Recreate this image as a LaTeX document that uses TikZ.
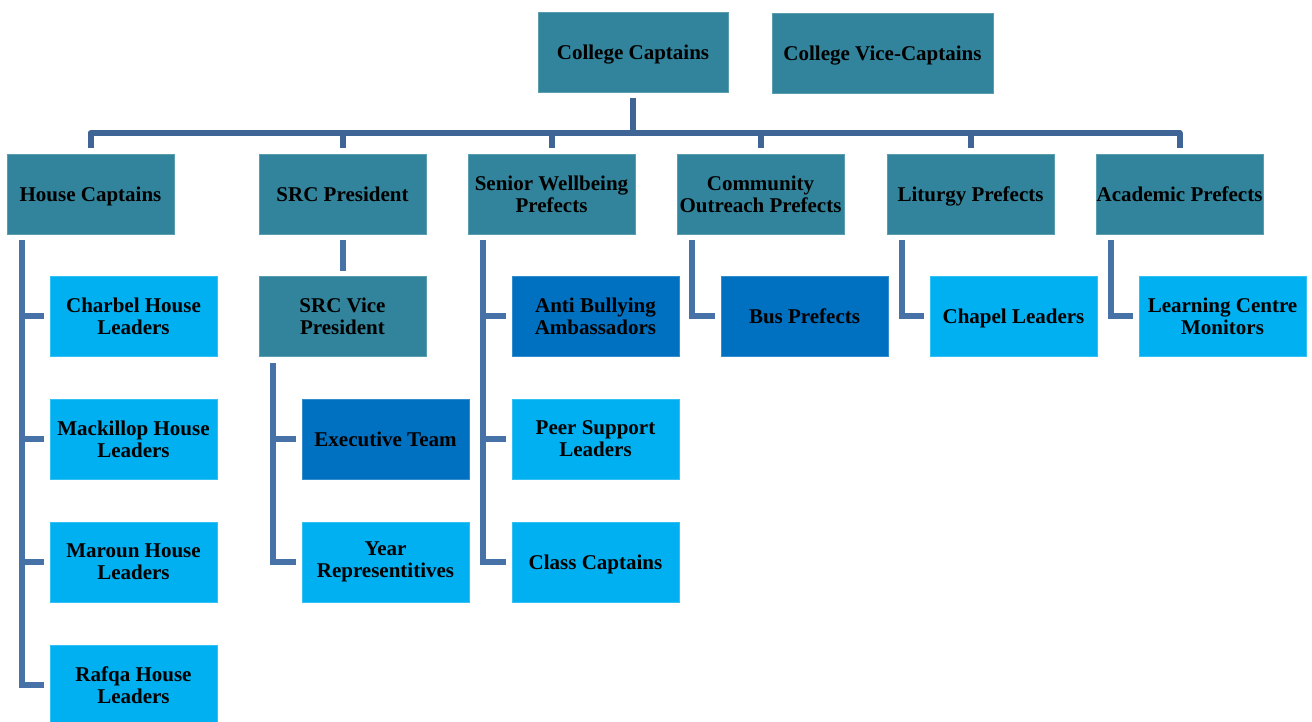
\documentclass[tikz,border=0pt]{standalone}
\usepackage{fontspec}
\setmainfont{Liberation Serif}
\definecolor{tealc}{HTML}{31849B}
\definecolor{lightc}{HTML}{00B0F0}
\definecolor{darkc}{HTML}{0070C0}
\definecolor{linec}{HTML}{4672A8}
\definecolor{busc}{HTML}{3F6496}
\begin{document}
\begin{tikzpicture}[x=1pt,y=-1pt,
  box/.style={rectangle, inner sep=0pt, minimum width=167pt, minimum height=80pt,
    align=center, font=\fontsize{21}{22}\selectfont\bfseries, text=black, line width=0.8pt},
  oneline/.style={text height=15pt, text depth=0pt},
  tealbox/.style={box, fill=tealc, draw=tealc!80!white},
  lightbox/.style={box, fill=lightc, draw=lightc!80!white},
  darkbox/.style={box, fill=darkc, draw=darkc!80!white},
  conn/.style={draw=linec, line width=6pt, line join=miter},
  busline/.style={draw=busc, line width=6pt, line join=round}]
\useasboundingbox (0,0) rectangle (1312,722);

% top level
\node[tealbox, oneline, minimum width=190pt] (cc) at (633,52) {College Captains};
\node[tealbox, oneline, minimum width=221pt] (cv) at (882.5,53) {College Vice-Captains};

% level 2
\node[tealbox, oneline] (hc)  at (90.5,194)  {House Captains};
\node[tealbox, oneline] (src) at (342.5,194) {SRC President};
\node[tealbox] (sw)  at (551.5,194) {Senior Wellbeing\\Prefects};
\node[tealbox] (co)  at (760.5,194) {Community\\Outreach Prefects};
\node[tealbox, oneline] (lp)  at (970.5,194) {Liturgy Prefects};
\node[tealbox, oneline] (ap)  at (1179.5,194) {Academic Prefects};

% level 3
\node[lightbox] (ch) at (133.5,316) {Charbel House\\Leaders};
\node[lightbox] (mk) at (133.5,439) {Mackillop House\\Leaders};
\node[lightbox] (mr) at (133.5,562) {Maroun House\\Leaders};
\node[lightbox] (rf) at (133.5,685) {Rafqa House\\Leaders};

\node[tealbox] (sv) at (342.5,316) {SRC Vice\\President};
\node[darkbox, oneline] (ex) at (385.5,439) {Executive Team};
\node[lightbox] (yr) at (385.5,562) {Year\\Representitives};

\node[darkbox] (ab) at (595.5,316) {Anti Bullying\\Ambassadors};
\node[lightbox] (ps) at (595.5,439) {Peer Support\\Leaders};
\node[lightbox, oneline] (cl) at (595.5,562) {Class Captains};

\node[darkbox, oneline] (bp) at (804.5,316) {Bus Prefects};
\node[lightbox, oneline] (chl) at (1013.5,316) {Chapel Leaders};
\node[lightbox] (lc) at (1222.5,316) {Learning Centre\\Monitors};

% bus
\coordinate (busL) at (90.5,133);
\draw[busline] ([yshift=-6pt]cc.south) -- (cc.south |- busL);
\draw[busline] ([yshift=6pt]hc.north) -- (hc.north |- busL) -- (ap.north |- busL) -- ([yshift=6pt]ap.north);
\foreach \n in {src,sw,co,lp}{
  \draw[busline] (\n.north |- busL) -- ([yshift=6pt]\n.north);
}

% SRC President -> SRC Vice
\draw[conn] ([yshift=-6pt]src.south) -- ([yshift=5pt]sv.north);

% rails
\coordinate (hcr) at ([xshift=15pt,yshift=-6pt]hc.south west);
\draw[conn] (hcr) |- ([xshift=-6pt]rf.west);
\foreach \n in {ch,mk,mr}{
  \draw[conn] (hcr |- \n.west) -- ([xshift=-6pt]\n.west);
}

\coordinate (svr) at ([xshift=14pt,yshift=-7pt]sv.south west);
\draw[conn] (svr) |- ([xshift=-6pt]yr.west);
\draw[conn] (svr |- ex.west) -- ([xshift=-6pt]ex.west);

\coordinate (swr) at ([xshift=15pt,yshift=-6pt]sw.south west);
\draw[conn] (swr) |- ([xshift=-6pt]cl.west);
\foreach \n in {ab,ps}{
  \draw[conn] (swr |- \n.west) -- ([xshift=-6pt]\n.west);
}

\coordinate (cor) at ([xshift=15pt,yshift=-6pt]co.south west);
\draw[conn] (cor) |- ([xshift=-6pt]bp.west);
\coordinate (lpr) at ([xshift=15pt,yshift=-6pt]lp.south west);
\draw[conn] (lpr) |- ([xshift=-6pt]chl.west);
\coordinate (apr) at ([xshift=15pt,yshift=-6pt]ap.south west);
\draw[conn] (apr) |- ([xshift=-6pt]lc.west);
\end{tikzpicture}
\end{document}
